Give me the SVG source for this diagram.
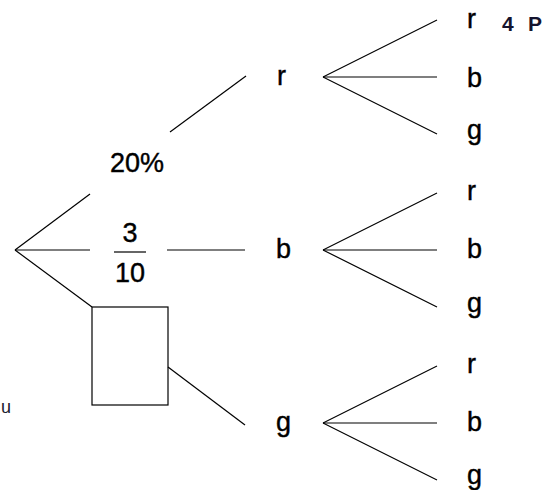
<svg xmlns="http://www.w3.org/2000/svg" width="560" height="490" viewBox="0 0 560 490">
<style>
.e{stroke:#000;stroke-width:1.2;fill:none}
.t{font-family:"Liberation Sans",Arial,sans-serif;font-size:27px;fill:#000;stroke:#000;stroke-width:0.4}
.bold{font-family:"Liberation Sans",Arial,sans-serif;font-size:21px;font-weight:bold;fill:#14142e}
</style>
<rect width="560" height="490" fill="#fff"/>
<g id="connectors">
<line class="e" x1="15" y1="250" x2="90" y2="194"/>
<line class="e" x1="170" y1="132" x2="246" y2="76"/>
<line class="e" x1="15" y1="250" x2="90" y2="250"/>
<line class="e" x1="167" y1="250" x2="245" y2="250"/>
<line class="e" x1="15" y1="250" x2="92" y2="307"/>
<line class="e" x1="168" y1="367" x2="245" y2="425"/>
<line class="e" x1="323" y1="77" x2="437" y2="20"/>
<line class="e" x1="323" y1="77" x2="437" y2="77"/>
<line class="e" x1="323" y1="77" x2="437" y2="134"/>
<line class="e" x1="323" y1="250" x2="437" y2="193"/>
<line class="e" x1="323" y1="250" x2="437" y2="250"/>
<line class="e" x1="323" y1="250" x2="437" y2="307"/>
<line class="e" x1="323" y1="423" x2="437" y2="366"/>
<line class="e" x1="323" y1="423" x2="437" y2="423"/>
<line class="e" x1="323" y1="423" x2="437" y2="480"/>
</g>
<g id="label-20"><text class="t" x="137" y="172" text-anchor="middle">20%</text></g>
<g id="label-frac">
<text class="t" x="130" y="242" text-anchor="middle">3</text>
<line class="e" x1="114" y1="252" x2="146" y2="252"/>
<text class="t" x="130" y="282" text-anchor="middle">10</text>
</g>
<g id="box"><rect class="e" x="92" y="307" width="76" height="98"/></g>
<g id="n-r"><text class="t" x="277" y="85">r</text></g>
<g id="n-b"><text class="t" x="276" y="258">b</text></g>
<g id="n-g"><text class="t" x="276" y="431">g</text></g>
<g id="n-rr"><text class="t" x="467" y="28">r</text></g>
<g id="n-rb"><text class="t" x="467" y="87">b</text></g>
<g id="n-rg"><text class="t" x="467" y="139">g</text></g>
<g id="n-br"><text class="t" x="467" y="200">r</text></g>
<g id="n-bb"><text class="t" x="467" y="258">b</text></g>
<g id="n-bg"><text class="t" x="467" y="312">g</text></g>
<g id="n-gr"><text class="t" x="467" y="373">r</text></g>
<g id="n-gb"><text class="t" x="467" y="431">b</text></g>
<g id="n-gg"><text class="t" x="467" y="484">g</text></g>
<g id="label-4p"><text class="bold" x="502" y="31">4<tspan x="528">P</tspan></text></g>
<g id="label-u"><text x="1" y="413" style="font-family:'Liberation Sans',Arial,sans-serif;font-size:18px;fill:#1a1a2e">u</text></g>
</svg>
